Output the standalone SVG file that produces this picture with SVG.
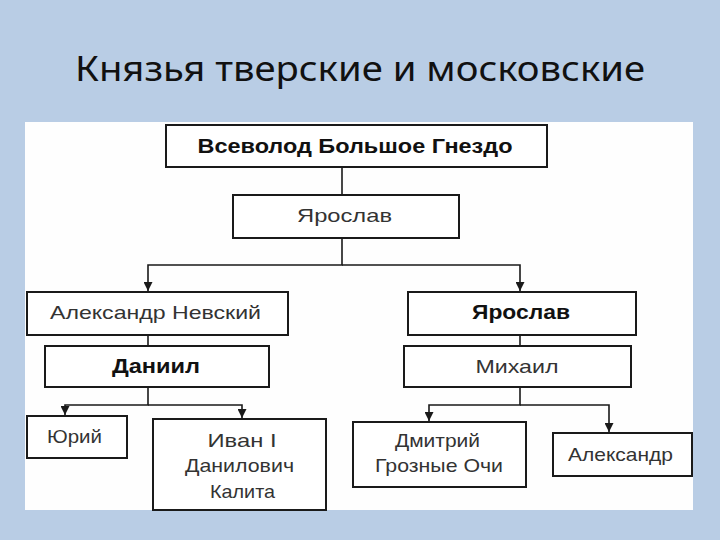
<svg xmlns="http://www.w3.org/2000/svg" width="720" height="540" viewBox="0 0 720 540">
<style>
.box{fill:#fff;stroke:#1a1a1a;stroke-width:2}
.t{font-family:"Liberation Sans",Arial,sans-serif;font-size:19px;fill:#333;text-anchor:middle}
.b{font-family:"Liberation Sans",Arial,sans-serif;font-size:20px;font-weight:bold;fill:#111;text-anchor:middle}
.ln{fill:none;stroke:#1a1a1a;stroke-width:1.6}
</style>
<defs>
<marker id="ah" viewBox="0 0 10 10" refX="10" refY="5" markerWidth="9" markerHeight="9" markerUnits="userSpaceOnUse" orient="auto">
<path d="M0,0 L10,5 L0,10 Z" fill="#1a1a1a"/>
</marker>
</defs>
<rect x="0" y="0" width="720" height="540" fill="#b9cde5"/>
<text x="360" y="81" font-family="'Noto Sans','Open Sans',sans-serif" font-size="34" fill="#111" text-anchor="middle" textLength="570" lengthAdjust="spacingAndGlyphs">Князья тверские и московские</text>
<rect x="25" y="122" width="668" height="388" fill="#fefefe"/>

<g id="connectors">
<path class="ln" d="M342,167 V195"/>
<path class="ln" d="M342,238 V265 H148 V291" marker-end="url(#ah)"/>
<path class="ln" d="M342,265 H520 V291" marker-end="url(#ah)"/>
<path class="ln" d="M148,335 V346"/>
<path class="ln" d="M520,335 V346"/>
<path class="ln" d="M148,387 V405 H65 V415" marker-end="url(#ah)"/>
<path class="ln" d="M148,405 H242 V418" marker-end="url(#ah)"/>
<path class="ln" d="M520,387 V405 H429 V421" marker-end="url(#ah)"/>
<path class="ln" d="M520,405 H609 V432" marker-end="url(#ah)"/>
</g>

<g id="vsevolod">
<rect class="box" x="166" y="125" width="381" height="42"/>
<text class="b" x="355" y="153" font-size="21" textLength="315" lengthAdjust="spacingAndGlyphs">Всеволод Большое Гнездо</text>
</g>
<g id="yaroslav1">
<rect class="box" x="233" y="195" width="226" height="43"/>
<text class="t" x="344.5" y="222" textLength="95" lengthAdjust="spacingAndGlyphs">Ярослав</text>
</g>
<g id="alexander-nevsky">
<rect class="box" x="27" y="292" width="261" height="43"/>
<text class="t" x="155.5" y="319" textLength="211" lengthAdjust="spacingAndGlyphs">Александр Невский</text>
</g>
<g id="yaroslav2">
<rect class="box" x="408" y="292" width="228" height="43"/>
<text class="b" x="521" y="319" textLength="98" lengthAdjust="spacingAndGlyphs">Ярослав</text>
</g>
<g id="daniil">
<rect class="box" x="45" y="346" width="224" height="41"/>
<text class="b" x="156" y="373" textLength="88" lengthAdjust="spacingAndGlyphs">Даниил</text>
</g>
<g id="mikhail">
<rect class="box" x="404" y="346" width="227" height="41"/>
<text class="t" x="517" y="373" textLength="83" lengthAdjust="spacingAndGlyphs">Михаил</text>
</g>
<g id="yuri">
<rect class="box" x="27" y="416" width="100" height="42"/>
<text class="t" x="74.5" y="443" textLength="55" lengthAdjust="spacingAndGlyphs">Юрий</text>
</g>
<g id="ivan">
<rect class="box" x="153" y="419" width="173" height="91"/>
<text class="t" x="242" y="447" textLength="69" lengthAdjust="spacingAndGlyphs">Иван I</text>
<text class="t" x="239.5" y="472" textLength="109" lengthAdjust="spacingAndGlyphs">Данилович</text>
<text class="t" x="242.5" y="498" textLength="65" lengthAdjust="spacingAndGlyphs">Калита</text>
</g>
<g id="dmitry">
<rect class="box" x="353" y="422" width="173" height="65"/>
<text class="t" x="437.5" y="447" textLength="85" lengthAdjust="spacingAndGlyphs">Дмитрий</text>
<text class="t" x="439" y="472" textLength="128" lengthAdjust="spacingAndGlyphs">Грозные Очи</text>
</g>
<g id="alexander">
<rect class="box" x="553" y="433" width="139" height="43"/>
<text class="t" x="620.5" y="461" textLength="105" lengthAdjust="spacingAndGlyphs">Александр</text>
</g>
</svg>
